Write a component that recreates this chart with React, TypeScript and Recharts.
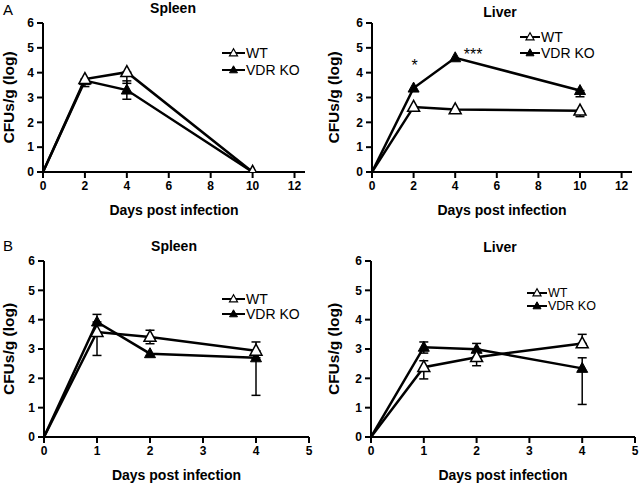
import React from 'react';
import { LineChart, Line, XAxis, YAxis, ErrorBar, Legend, LabelList, Customized } from 'recharts';

const FONT = '"Liberation Sans", Arial, Helvetica, sans-serif';

type Err = [number, number] | null;

// ---- Panel A (days 0-10) ----
const daysA = [0, 2, 4, 10];
const xTicksA = [0, 2, 4, 6, 8, 10, 12];
const spleenA_WT = [0, 3.74, 4.02, 0];
const spleenA_WT_err: Err[] = [null, [0.3, 0], [0.45, 0], null];
const spleenA_KO = [0, 3.68, 3.3, 0];
const spleenA_KO_err: Err[] = [null, null, [0.37, 0.37], null];

const liverA_WT = [0, 2.62, 2.52, 2.47];
const liverA_WT_err: Err[] = [null, null, null, [0.24, 0]];
const liverA_KO = [0, 3.38, 4.6, 3.28];
const liverA_KO_err: Err[] = [null, null, null, [0.25, 0]];
const liverA_sig = ['', '*', '***', ''];

// ---- Panel B (days 0-4) ----
const daysB = [0, 1, 2, 4];
const xTicksB = [0, 1, 2, 3, 4, 5];
const spleenB_WT = [0, 3.58, 3.41, 2.94];
const spleenB_WT_err: Err[] = [null, [0.8, 0], [0.23, 0.23], [0, 0.3]];
const spleenB_KO = [0, 3.92, 2.84, 2.7];
const spleenB_KO_err: Err[] = [null, [0, 0.26], null, [1.28, 0]];

const liverB_WT = [0, 2.38, 2.72, 3.19];
const liverB_WT_err: Err[] = [null, [0.4, 0.22], [0.29, 0], [0, 0.31]];
const liverB_KO = [0, 3.06, 2.99, 2.34];
const liverB_KO_err: Err[] = [null, [0.2, 0.18], [0, 0.2], [1.23, 0.36]];

const yTicks = [0, 1, 2, 3, 4, 5, 6];
const seriesNames = ['WT', 'VDR KO'];
const xTitle = 'Days post infection';
const yTitle = 'CFUs/g (log)';

const triPts = (cx: number, cy: number, w: number, h: number) => {
  const top = cy - h * 0.6;
  const bot = cy + h * 0.4;
  return `${cx},${top} ${cx - w / 2},${bot} ${cx + w / 2},${bot}`;
};

const OpenTri = (p: any) => {
  const k = `o-${p.index}`;
  if (p.cx == null || p.cy == null || (p.payload && p.payload.day === 0)) return <g key={k} />;
  return <polygon key={k} points={triPts(p.cx, p.cy, 12, 11)} fill="#fff" stroke="#000" strokeWidth={1.5} />;
};

const FilledTri = (p: any) => {
  const k = `f-${p.index}`;
  if (p.cx == null || p.cy == null || (p.payload && p.payload.day === 0)) return <g key={k} />;
  return <polygon key={k} points={triPts(p.cx, p.cy, 11, 10)} fill="#000" stroke="#000" strokeWidth={1} />;
};

const XTitle = (props: any) => {
  const vb = props.viewBox || { x: 0, y: 0, width: 0 };
  return (
    <text x={vb.x + vb.width / 2} y={vb.y + 43} textAnchor="middle" fontFamily={FONT} fontWeight="bold" fontSize={14} fill="#000">
      {props.text}
    </text>
  );
};

const YTitle = (props: any) => {
  const vb = props.viewBox || { x: 0, y: 0, height: 0 };
  const cx = vb.x + props.off;
  const cy = vb.y + vb.height / 2;
  return (
    <text x={cx} y={cy} dy="0.35em" transform={`rotate(-90, ${cx}, ${cy})`} textAnchor="middle" fontFamily={FONT} fontWeight="bold" fontSize={15.5} fill="#000">
      {props.text}
    </text>
  );
};

const SigLabel = (p: any) => {
  if (!p.value) return null;
  const single = p.value === '*';
  const x = single ? p.x + 1 : p.x + 18;
  const y = single ? p.y - 17 : p.y + 2;
  return (
    <text x={x} y={y} textAnchor="middle" fontFamily={FONT} fontSize={16} fill="#000">
      {p.value}
    </text>
  );
};

const LegendBox = ({ len, gap, fs }: { len: number; gap: number; fs: number }) => (
  <svg width={110} height={gap + 18} style={{ display: 'block', overflow: 'visible' }}>
    {seriesNames.map((name, i) => {
      const cy = 8 + i * gap;
      const mid = len / 2;
      return (
        <g key={name}>
          <line x1={0} y1={cy} x2={len} y2={cy} stroke="#000" strokeWidth={2} />
          {i === 0 ? (
            <polygon points={triPts(mid, cy, 8, 7)} fill="#fff" stroke="#000" strokeWidth={1.2} />
          ) : (
            <polygon points={triPts(mid, cy, 8, 7)} fill="#000" stroke="#000" strokeWidth={1} />
          )}
          <text x={len + 1} y={cy} dy="0.35em" fontFamily={FONT} fontSize={fs} fill="#000">
            {name}
          </text>
        </g>
      );
    })}
  </svg>
);

interface Cfg {
  left: number;
  top: number;
  h: number;
  days: number[];
  wt: number[];
  ko: number[];
  wtErr: Err[];
  koErr: Err[];
  sig?: string[];
  xDomain: [number, number];
  xTicks: number[];
  margin: { top: number; right: number; bottom: number; left: number };
  yW: number;
  xH: number;
  yOff: number;
  title: string;
  titleX: number;
  titleY: number;
  letter?: string;
  letterY?: number;
  leg: { x: number; y: number; len: number; gap: number; fs: number };
}

const axisStroke = { stroke: '#000', strokeWidth: 2 };
const tickStyle = { fill: '#000', fontSize: 12, fontWeight: 'bold', fontFamily: FONT };

function Panel({ cfg }: { cfg: Cfg }) {
  const rows = cfg.days.map((d, i) => ({
    day: d,
    wt: cfg.wt[i],
    ko: cfg.ko[i],
    wtErr: cfg.wtErr[i],
    koErr: cfg.koErr[i],
    sig: cfg.sig ? cfg.sig[i] : '',
  }));
  return (
    <div style={{ position: 'absolute', left: cfg.left, top: cfg.top, width: 320, height: cfg.h }}>
      <LineChart width={320} height={cfg.h} data={rows} margin={cfg.margin}>
        <XAxis
          dataKey="day"
          type="number"
          domain={cfg.xDomain}
          ticks={cfg.xTicks}
          interval={0}
          height={cfg.xH}
          axisLine={axisStroke}
          tickLine={axisStroke}
          tickSize={6}
          tickMargin={3}
          tick={tickStyle}
          allowDataOverflow
          label={<XTitle text={xTitle} />}
        />
        <YAxis
          type="number"
          domain={[0, 6]}
          ticks={yTicks}
          interval={0}
          width={cfg.yW}
          axisLine={axisStroke}
          tickLine={axisStroke}
          tickSize={6}
          tickMargin={3}
          tick={tickStyle}
          allowDataOverflow
          label={<YTitle text={yTitle} off={cfg.yOff} />}
        />
        <Line
          dataKey="ko"
          name={seriesNames[1]}
          type="linear"
          stroke="#000"
          strokeWidth={2.5}
          dot={FilledTri}
          activeDot={false}
          isAnimationActive={false}
        >
          <ErrorBar dataKey="koErr" direction="y" width={4.5} stroke="#000" strokeWidth={1.5} isAnimationActive={false} />
          {cfg.sig ? <LabelList dataKey="sig" content={SigLabel} /> : null}
        </Line>
        <Line
          dataKey="wt"
          name={seriesNames[0]}
          type="linear"
          stroke="#000"
          strokeWidth={2.5}
          dot={OpenTri}
          activeDot={false}
          isAnimationActive={false}
        >
          <ErrorBar dataKey="wtErr" direction="y" width={4.5} stroke="#000" strokeWidth={1.5} isAnimationActive={false} />
        </Line>
        <Legend
          layout="horizontal"
          verticalAlign="middle"
          align="center"
          wrapperStyle={{ left: cfg.leg.x, top: cfg.leg.y - 8, bottom: 'auto', width: 110, height: cfg.leg.gap + 18 }}
          content={() => <LegendBox len={cfg.leg.len} gap={cfg.leg.gap} fs={cfg.leg.fs} />}
        />
        <Customized
          component={() => (
            <g>
              <text x={cfg.titleX} y={cfg.titleY} textAnchor="middle" fontFamily={FONT} fontWeight="bold" fontSize={14} fill="#000">
                {cfg.title}
              </text>
              {cfg.letter ? (
                <text x={3} y={cfg.letterY} fontFamily={FONT} fontSize={15} fill="#000">
                  {cfg.letter}
                </text>
              ) : null}
            </g>
          )}
        />
      </LineChart>
    </div>
  );
}

const panels: Cfg[] = [
  {
    left: 0, top: 0, h: 242, days: daysA, wt: spleenA_WT, ko: spleenA_KO, wtErr: spleenA_WT_err, koErr: spleenA_KO_err,
    xDomain: [0, 12.5], xTicks: xTicksA, margin: { top: 23, right: 15, bottom: 0, left: 0 }, yW: 43, xH: 70, yOff: 9,
    title: 'Spleen', titleX: 173, titleY: 13, letter: 'A', letterY: 15,
    leg: { x: 222, y: 53, len: 23, gap: 17, fs: 14 },
  },
  {
    left: 320, top: 0, h: 242, days: daysA, wt: liverA_WT, ko: liverA_KO, wtErr: liverA_WT_err, koErr: liverA_KO_err, sig: liverA_sig,
    xDomain: [0, 12.5], xTicks: xTicksA, margin: { top: 23, right: 8, bottom: 0, left: 0 }, yW: 52, xH: 70, yOff: 14,
    title: 'Liver', titleX: 180, titleY: 17,
    leg: { x: 200, y: 37, len: 20, gap: 16, fs: 14 },
  },
  {
    left: 0, top: 226, h: 258, days: daysB, wt: spleenB_WT, ko: spleenB_KO, wtErr: spleenB_WT_err, koErr: spleenB_KO_err,
    xDomain: [0, 5], xTicks: xTicksB, margin: { top: 35, right: 11, bottom: 0, left: 0 }, yW: 44, xH: 47, yOff: 9,
    title: 'Spleen', titleX: 174, titleY: 25, letter: 'B', letterY: 25,
    leg: { x: 222, y: 73, len: 23, gap: 15, fs: 14 },
  },
  {
    left: 320, top: 226, h: 258, days: daysB, wt: liverB_WT, ko: liverB_KO, wtErr: liverB_WT_err, koErr: liverB_KO_err, sig: undefined,
    xDomain: [0, 5], xTicks: xTicksB, margin: { top: 35, right: 5, bottom: 0, left: 0 }, yW: 51, xH: 47, yOff: 14,
    title: 'Liver', titleX: 180, titleY: 26,
    leg: { x: 207, y: 67, len: 20, gap: 13, fs: 12.5 },
  },
];

export default function App() {
  return (
    <div style={{ position: 'absolute', left: 0, top: 0, width: 640, height: 484, background: '#fff', overflow: 'hidden' }}>
      {panels.map((p, i) => (
        <Panel key={i} cfg={p} />
      ))}
    </div>
  );
}
